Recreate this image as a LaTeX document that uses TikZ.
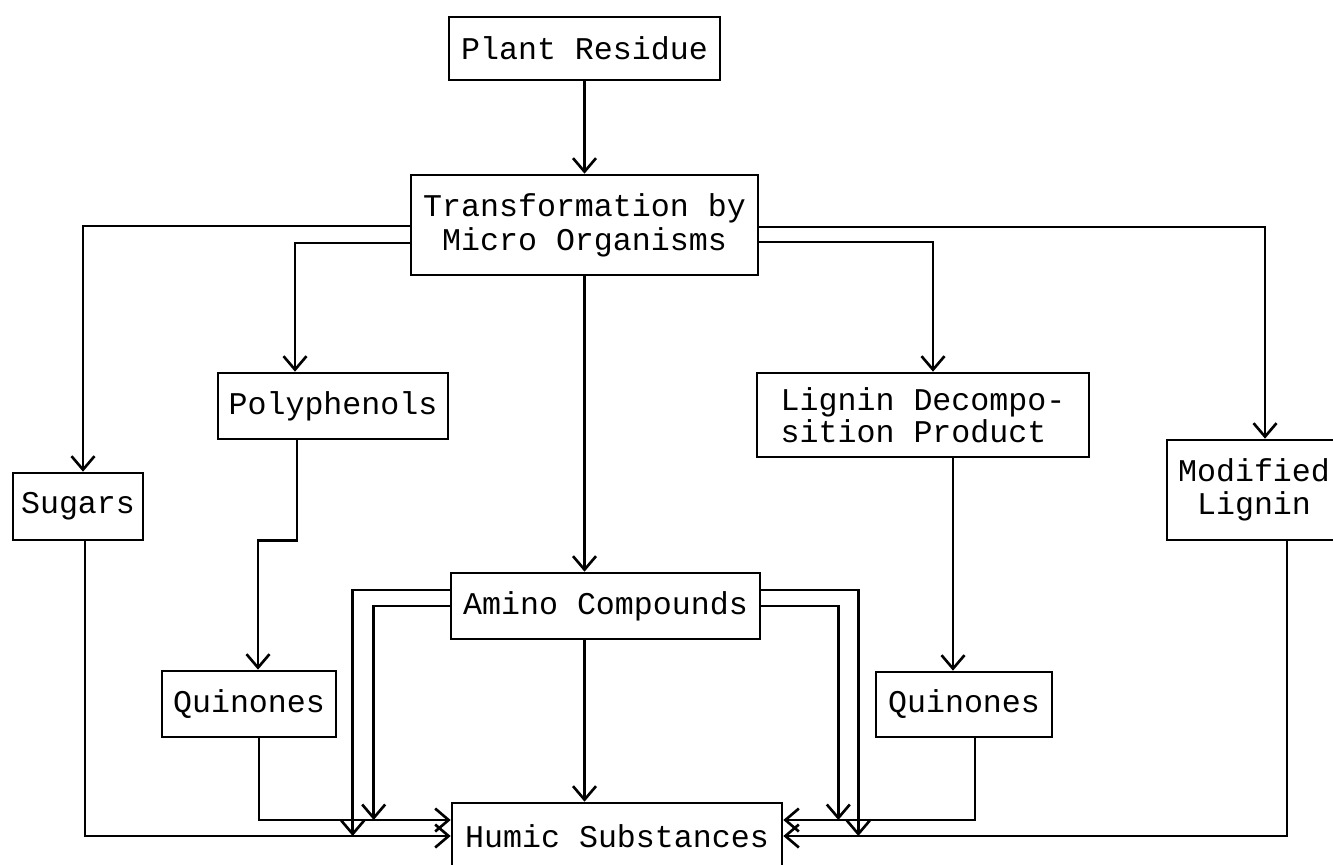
\documentclass[tikz,border=0pt]{standalone}
\usepackage{fontspec}
\setmonofont{Liberation Mono}
\usetikzlibrary{arrows.meta, positioning, calc}

\tikzset{
    box/.style={draw, line width=1.5pt, inner sep=0pt, align=center,
        font=\ttfamily\fontsize{18}{18.5}\selectfont},
    flow/.style={line width=1.5pt,
        -{Straight Barb[length=0.27cm, width=0.46cm, line width=1.5pt]}}
}

\begin{document}
\begin{tikzpicture}[x=0.2mm, y=-0.2mm]

    \useasboundingbox (0,0) rectangle (1333,864);

    %% Formation of humic substances

    % Boxes
    \node[box, minimum width=5.42cm, minimum height=1.26cm] (plant) at (584.5,48.5) {Plant Residue};
    \node[box, minimum width=6.94cm, minimum height=2.0cm, font=\ttfamily\fontsize{18}{19.5}\selectfont] (trans) at (584.5,225) {Transformation by\\Micro Organisms};
    \node[box, minimum width=2.6cm, minimum height=1.34cm] (sugars) at (78,506.5) {Sugars};
    \node[box, minimum width=4.6cm, minimum height=1.32cm] (poly) at (333,406) {Polyphenols};
    \node[box, minimum width=6.64cm, minimum height=1.68cm, align=left] (lignin) at (923,415) {Lignin Decompo-\\sition Product};
    \node[box, minimum width=3.48cm, minimum height=2.0cm] (modified) at (1254,490) {Modified\\Lignin};
    \node[box, minimum width=6.18cm, minimum height=1.32cm] (amino) at (605.5,606) {Amino Compounds};
    \node[box, minimum width=3.48cm, minimum height=1.32cm] (quinL) at (249,704) {Quinones};
    \node[box, minimum width=3.52cm, minimum height=1.3cm] (quinR) at (964,704.5) {Quinones};
    \node[box, minimum width=6.6cm, minimum height=1.32cm] (humic) at (617,836) {Humic Substances};

    % Upper part
    \draw[flow] (plant) -- (trans);
    \draw[flow] ($(trans.west)+(0,1)$) -| ($(sugars.north)+(5,0)$);
    \draw[flow] ($(trans.west)+(0,18)$) -| ($(poly.north)+(-38,0)$);
    \draw[flow] ($(trans.east)+(0,2)$) -| ($(modified.north)+(11,0)$);
    \draw[flow] ($(trans.east)+(0,17)$) -| ($(lignin.north)+(10,0)$);
    \draw[flow] (trans.south) -- (trans.south |- amino.north);

    % Quinones
    \draw[flow] ($(poly.south)+(-36,0)$) -- ++(0,100) -| ($(quinL.north)+(9,0)$);
    \draw[flow] ($(lignin.south)+(30,0)$) coordinate (ld) -- (ld |- quinR.north);

    % Into humic substances
    \draw[flow] ($(sugars.south)+(7,0)$) |- (humic.west);
    \draw[flow] ($(quinL.south)+(10,0)$) |- ($(humic.west)+(0,-16)$);
    \draw[flow] ($(amino.west)+(0,-16)$) -| ($(humic.west)+(-98,0)$);
    \draw[flow] (amino.west) -| ($(humic.west)+(-77,-16)$);
    \draw[flow] ($(amino.east)+(0,-16)$) -| ($(humic.east)+(75,0)$);
    \draw[flow] (amino.east) -| ($(humic.east)+(55,-16)$);
    \draw[flow] (trans.south |- amino.south) -- (trans.south |- humic.north);
    \draw[flow] ($(quinR.south)+(11,0)$) |- ($(humic.east)+(0,-16)$);
    \draw[flow] ($(modified.south)+(33,0)$) |- (humic.east);

\end{tikzpicture}
\end{document}
